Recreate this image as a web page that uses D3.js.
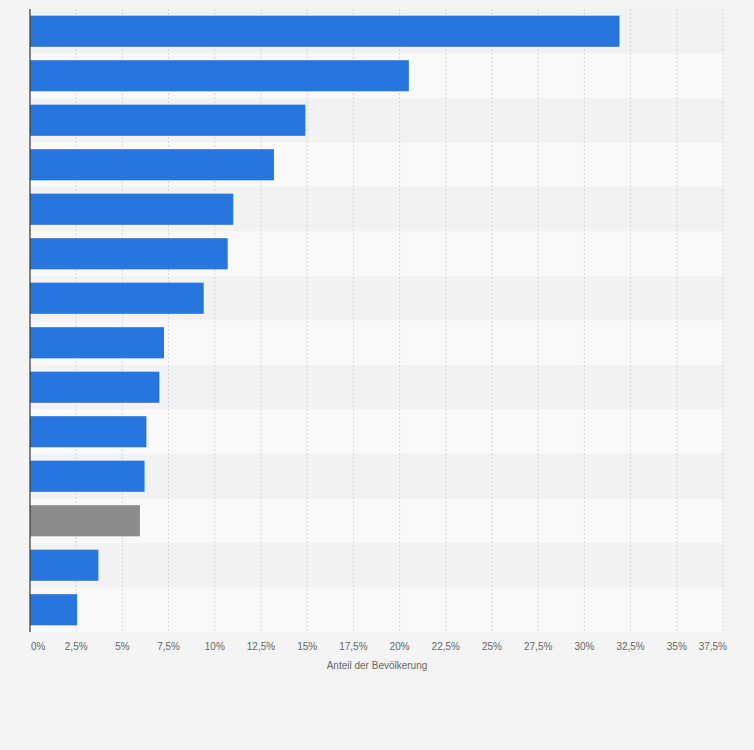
<!DOCTYPE html>
<html><head><meta charset="utf-8">
<script src="https://cdn.jsdelivr.net/npm/d3@7"></script>
<style>body{margin:0;background:#f4f4f4;font-family:"Liberation Sans",Arial,sans-serif}</style>
</head><body><svg id="chart" width="754" height="750"></svg>
<script>
// values, one per bar, top to bottom
var rows = ["r1","r2","r3","r4","r5","r6","r7","r8","r9","r10","r11","r12","r13","r14"];
var values = [31.9, 20.5, 14.9, 13.2, 11.0, 10.7, 9.4, 7.25, 7.0, 6.3, 6.2, 5.95, 3.7, 2.55];
var highlight = [false,false,false,false,false,false,false,false,false,false,false,true,false,false];
var ticks = [0, 2.5, 5, 7.5, 10, 12.5, 15, 17.5, 20, 22.5, 25, 27.5, 30, 32.5, 35, 37.5];

var svg = d3.select("#chart"),
    margin = {top: 9, right: 31, bottom: 118, left: 30},
    width = +svg.attr("width") - margin.left - margin.right,
    height = +svg.attr("height") - margin.top - margin.bottom,
    g = svg.append("g").attr("transform", "translate(" + margin.left + "," + margin.top + ")");

var x = d3.scaleLinear().domain([0, 37.5]).range([0, width]);
var y = d3.scaleBand().domain(rows).range([0, height]).paddingInner(0.3).paddingOuter(0.15);
var step = y.step();

// striped row backgrounds
g.selectAll("rect.stripe").data(rows).enter().append("rect")
    .attr("x", 0).attr("width", width)
    .attr("y", function(d, i) { return i * step; })
    .attr("height", step)
    .attr("fill", function(d, i) { return i % 2 ? "#f9f9f9" : "#f2f2f2"; });

// gridlines
g.selectAll("line.grid").data(ticks.slice(1)).enter().append("line")
    .attr("x1", x).attr("x2", x).attr("y1", 0).attr("y2", height)
    .attr("stroke", "#d6d6d6").attr("stroke-dasharray", "2,2");

g.selectAll("rect.bar").data(values).enter().append("rect")
    .attr("x", 0).attr("y", function(d, i) { return y(rows[i]); })
    .attr("width", function(d) { return x(d); })
    .attr("height", y.bandwidth())
    .attr("fill", function(d, i) { return highlight[i] ? "#8c8c8c" : "#2876dd"; });

g.append("line").attr("x1", 0).attr("x2", 0).attr("y1", 0).attr("y2", height)
    .attr("stroke", "#333").attr("stroke-width", 1.2);

var fmt = function(d) { return String(d).replace(".", ",") + "%"; };
g.selectAll("text.tick").data(ticks).enter().append("text")
    .attr("x", function(d, i) { return i === 0 ? 1 : (i === ticks.length - 1 ? width + 4 : x(d)); })
    .attr("y", height + 18)
    .attr("text-anchor", function(d, i) { return i === 0 ? "start" : (i === ticks.length - 1 ? "end" : "middle"); })
    .attr("font-size", 10).attr("fill", "#666")
    .text(fmt);

svg.append("text").attr("x", 377).attr("y", 669).attr("text-anchor", "middle")
    .attr("font-size", 10).attr("fill", "#666").text("Anteil der Bevölkerung");
</script></body></html>
